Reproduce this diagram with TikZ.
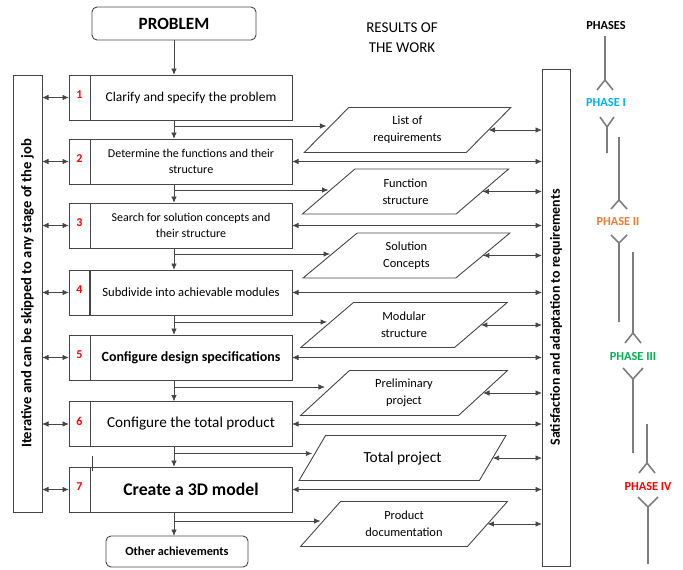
\documentclass[tikz,border=0pt]{standalone}
\usepackage{fontspec}
\setmainfont{Carlito}
\usetikzlibrary{calc,shapes.geometric,arrows.meta}
\newcommand{\fsz}[2]{\fontsize{#1pt}{#2pt}\selectfont}
\definecolor{phaseblue}{RGB}{0,176,240}
\definecolor{phaseorange}{RGB}{237,125,49}
\definecolor{phasegreen}{RGB}{0,176,80}
\definecolor{phasered}{RGB}{255,0,0}
\definecolor{linegray}{RGB}{70,70,70}
\definecolor{phasegray}{RGB}{125,125,125}

\tikzset{
	stage/.style={draw=linegray, line width=0.9pt, outer sep=0pt, minimum width=202, minimum height=45, align=center, inner sep=2pt},
	numcell/.style={draw=linegray, line width=0.9pt, outer sep=0pt, minimum width=21, minimum height=45, inner sep=0pt, text height=8.5pt, text depth=6pt, text=red, font=\fsz{12}{14}\bfseries, anchor=east},
	result/.style={trapezium, trapezium left angle=48, trapezium right angle=132, trapezium stretches=true, draw=linegray, line width=0.9pt, outer sep=0pt, minimum width=207, minimum height=45, inner sep=1pt, align=center, font=\fsz{12.4}{17}},
	tallbox/.style={draw=linegray, line width=0.9pt, outer sep=0pt, rotate=90, inner sep=0pt},
	startend/.style={draw=linegray, line width=0.9pt, outer sep=0pt, rounded corners=5pt},
	flow/.style={-{Latex[length=6.5pt, width=5.5pt]}, line width=0.9pt, linegray},
	link/.style={{Latex[length=6.5pt, width=5.5pt]}-{Latex[length=6.5pt, width=5.5pt]}, line width=0.9pt, linegray},
	phaseline/.style={phasegray, line width=1.6pt},
	phase/.style={font=\fsz{12.3}{14}\bfseries},
}

\begin{document}
\begin{tikzpicture}[x=1pt, y=-1pt]
	\useasboundingbox (0,0) rectangle (683,570);

	% start, end and heading
	\node [startend, minimum width=164, minimum height=33, font=\fsz{17.2}{19}\bfseries] (problem) at (174,23.5) {PROBLEM};
	\node [startend, minimum width=142, minimum height=31, font=\fsz{12.3}{14}\bfseries] (other) at (177,551.5) {Other achievements};
	\node [align=center, font=\fsz{15}{20}] (head) at (402,37.5) {RESULTS OF\\THE WORK};

	% stages
	\node [stage, font=\fsz{13.5}{16}] (s1) at (191,97.5) {Clarify and specify the problem};
	\node [numcell] (n1) at (s1.west) {1};
	\node [stage, font=\fsz{12}{16}] (s2) at (191,161.5) {Determine the functions and their\\structure};
	\node [numcell] (n2) at (s2.west) {2};
	\node [stage, font=\fsz{12}{16}] (s3) at (191,225.5) {Search for solution concepts and\\their structure};
	\node [numcell] (n3) at (s3.west) {3};
	\node [stage, font=\fsz{12.6}{16}] (s4) at (191,292.5) {Subdivide into achievable modules};
	\node [numcell] (n4) at (s4.west) {4};
	\draw [linegray, line width=1.6pt] (s4.north west) -- (s4.south west);
	\node [stage, font=\fsz{14}{16}\bfseries] (s5) at (191,357.5) {Configure design specifications};
	\node [numcell] (n5) at (s5.west) {5};
	\node [stage, font=\fsz{15.2}{17}] (s6) at (191,424) {Configure the total product};
	\node [numcell] (n6) at (s6.west) {6};
	\node [stage, font=\fsz{17.7}{20}\bfseries] (s7) at (191,489.5) {Create a 3D model};
	\node [numcell] (n7) at (s7.west) {7};
	\draw [linegray, line width=0.8pt] (92.5,456) -- (92.5,471);

	% results of the work
	\node [result] (r1) at (407.5,130) {List of\\requirements};
	\node [result] (r2) at (405.5,191.5) {Function\\structure};
	\node [result] (r3) at (406.5,255.5) {Solution\\Concepts};
	\node [result] (r4) at (404,325) {Modular\\structure};
	\node [result] (r5) at (404,393) {Preliminary\\project};
	\node [result, font=\fsz{15.4}{17}] (r6) at (402.5,458) {Total project};
	\node [result] (r7) at (404,524) {Product\\documentation};

	% side bars
	\node [tallbox, minimum width=437, minimum height=29, font=\fsz{14.6}{16}\bfseries] (lbox) at (27.5,293.5) {Iterative and can be skipped to any stage of the job};
	\node [tallbox, minimum width=497, minimum height=28, font=\fsz{14}{16}\bfseries] (rbox) at (556,317.5) {Satisfaction and adaptation to requirements};

	% main flow
	\draw [flow] (problem.south) -- (problem.south |- s1.north);
	\draw [flow] (s1.south -| problem) -- (s2.north -| problem);
	\draw [flow] (s2.south -| problem) -- (s3.north -| problem);
	\draw [flow] (s3.south -| problem) -- (s4.north -| problem);
	\draw [flow] (s4.south -| problem) -- (s5.north -| problem);
	\draw [flow] (s5.south -| problem) -- (s6.north -| problem);
	\draw [flow] (s6.south -| problem) -- (s7.north -| problem);
	\draw [flow] (s7.south -| problem) -- (problem |- other.north);

	% branches to the results
	\coordinate (b1) at ($(s1.south -| problem)+(0,6)$);
	\coordinate (b2) at ($(s2.south -| problem)+(0,6)$);
	\coordinate (b3) at ($(s3.south -| problem)+(0,6)$);
	\coordinate (b4) at ($(s4.south -| problem)+(0,7)$);
	\coordinate (b5) at ($(s5.south -| problem)+(0,7)$);
	\coordinate (b6) at ($(s6.south -| problem)+(0,7)$);
	\coordinate (b7) at ($(s7.south -| problem)+(0,9)$);
	\draw [flow] (b1) -- (b1 -| r1.left side);
	\draw [flow] (b2) -- (b2 -| r2.left side);
	\draw [flow] (b3) -- (b3 -| r3.left side);
	\draw [flow] (b4) -- (b4 -| r4.left side);
	\draw [flow] (b5) -- (b5 -| r5.left side);
	\draw [flow] (b6) -- (b6 -| r6.left side);
	\draw [flow] (b7) -- (b7 -| r7.left side);

	% links to the left bar
	\draw [link] (lbox.south |- n1.west) -- (n1.west);
	\draw [link] (lbox.south |- n2.west) -- (n2.west);
	\draw [link] (lbox.south |- n3.west) -- (n3.west);
	\draw [link] (lbox.south |- n4.west) -- (n4.west);
	\draw [link] (lbox.south |- n5.west) -- (n5.west);
	\draw [link] (lbox.south |- n6.west) -- (n6.west);
	\draw [link] (lbox.south |- n7.west) -- (n7.west);

	% links to the right bar
	\draw [link] (s2.east) -- (s2.east -| rbox.north);
	\draw [link] (s3.east) -- (s3.east -| rbox.north);
	\draw [link] (s4.east) -- (s4.east -| rbox.north);
	\draw [link] (s5.east) -- (s5.east -| rbox.north);
	\draw [link] (s6.east) -- (s6.east -| rbox.north);
	\draw [link] (s7.east) -- (s7.east -| rbox.north);
	\draw [link] (r1.right side) -- (r1.right side -| rbox.north);
	\draw [link] (r2.right side) -- (r2.right side -| rbox.north);
	\draw [link] (r3.right side) -- (r3.right side -| rbox.north);
	\draw [link] (r4.right side) -- (r4.right side -| rbox.north);
	\draw [link] (r5.right side) -- (r5.right side -| rbox.north);
	\draw [link] (r6.right side) -- (r6.right side -| rbox.north);
	\draw [link] (r7.right side) -- (r7.right side -| rbox.north);

	% phases
	\node [phase] (phases) at (606,25.5) {PHASES};
	\node [phase, text=phaseblue] (ph1) at (606,103) {PHASE I};
	\node [phase, text=phaseorange] (ph2) at (618,222) {PHASE II};
	\node [phase, text=phasegreen] (ph3) at (633,357) {PHASE III};
	\node [phase, text=phasered] (ph4) at (648,487) {PHASE IV};
	\draw [phaseline] (605,36) -- (605,80) (597,90) -- (605,80) -- (613,90);
	\draw [phaseline] (600,117) -- (607,127) -- (614,117) (607,127) -- (607,153);
	\draw [phaseline] (619,137) -- (619,200) (611,209) -- (619,200) -- (627,209);
	\draw [phaseline] (611,235) -- (619,243) -- (627,235) (619,243) -- (619,322);
	\draw [phaseline] (633,252) -- (633,333) (625,343) -- (633,333) -- (641,343);
	\draw [phaseline] (623,368) -- (633,379) -- (643,368) (633,379) -- (633,453);
	\draw [phaseline] (647,424) -- (647,463) (639,473) -- (647,463) -- (655,473);
	\draw [phaseline] (638,497) -- (648,507) -- (658,497) (648,507) -- (648,564);
\end{tikzpicture}
\end{document}
